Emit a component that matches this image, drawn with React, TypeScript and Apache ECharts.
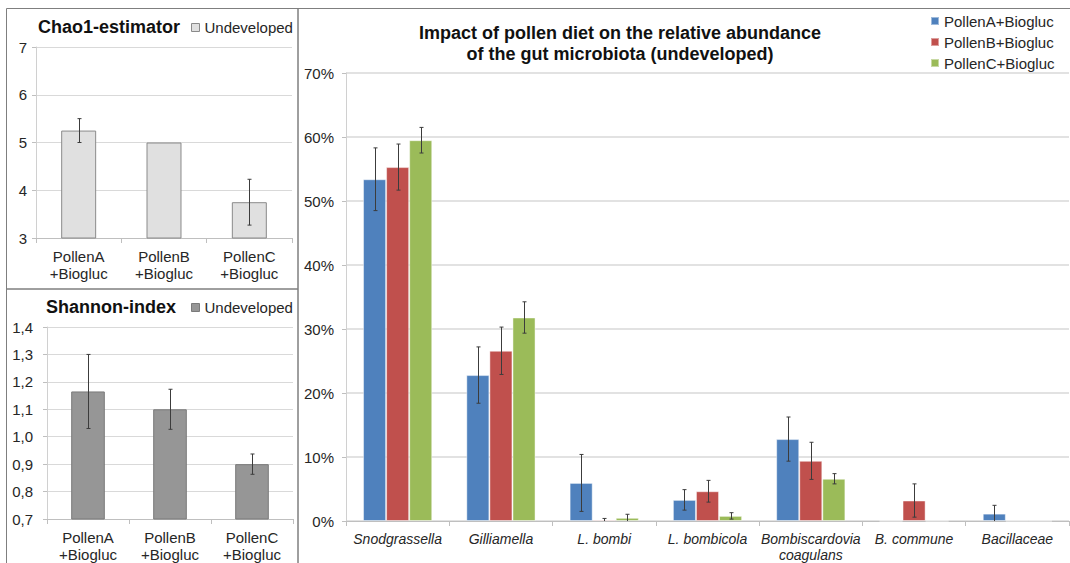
import React, { useEffect, useRef } from 'react';
import * as echarts from 'echarts';

// Alpha diversity panels (undeveloped colonies)
const pollenGroups = ['PollenA\n+Biogluc', 'PollenB\n+Biogluc', 'PollenC\n+Biogluc'];
const chao1Mean = [5.25, 5.0, 3.75];
const chao1Err = [0.25, 0, 0.48];
const shannonMean = [1.165, 1.1, 0.9];
const shannonErr = [0.135, 0.073, 0.037];

// Relative abundance of gut taxa (percent)
const taxa = [
  'Snodgrassella',
  'Gilliamella',
  'L. bombi',
  'L. bombicola',
  'Bombiscardovia\ncoagulans',
  'B. commune',
  'Bacillaceae',
];
const dietNames = ['PollenA+Biogluc', 'PollenB+Biogluc', 'PollenC+Biogluc'];
const pollenAMean = [53.4, 22.8, 5.95, 3.3, 12.8, 0, 1.15];
const pollenAErr = [4.9, 4.4, 4.45, 1.6, 3.45, 0, 1.3];
const pollenBMean = [55.3, 26.6, 0.2, 4.65, 9.4, 3.2, 0];
const pollenBErr = [3.6, 3.7, 0.2, 1.7, 2.9, 2.6, 0];
const pollenCMean = [59.5, 31.8, 0.5, 0.8, 6.6, 0, 0];
const pollenCErr = [2.0, 2.45, 0.55, 0.5, 0.8, 0, 0];

const FONT = "'Liberation Sans', Arial, sans-serif";
const TEXT = '#262626';
const ERR = '#3c3c3c';
const dietColors = ['#4f81bd', '#c0504d', '#9bbb59'];
const MAIN_GAP = 0.33;

function errorBars(slot: number, slots: number, gap: number, floor: number) {
  return (_params: any, api: any) => {
    const i = api.value(0);
    const mean = api.value(1);
    const err = api.value(2);
    if (!err) return null;
    const band = api.size([1, 0])[0];
    const groupW = band * (1 - gap);
    const barW = groupW / slots;
    const dx = -groupW / 2 + barW * (slot + 0.5);
    const lowVal = Math.max(mean - err, floor);
    const hi = api.coord([i, mean + err]);
    const lo = api.coord([i, lowVal]);
    const x = Math.round(hi[0] + dx) + 0.5;
    const cap = 2;
    const style = { stroke: ERR, lineWidth: 1 };
    const children: any[] = [
      { type: 'line', shape: { x1: x, y1: hi[1], x2: x, y2: lo[1] }, style },
      { type: 'line', shape: { x1: x - cap, y1: hi[1], x2: x + cap, y2: hi[1] }, style },
    ];
    if (lowVal > floor) {
      children.push({ type: 'line', shape: { x1: x - cap, y1: lo[1], x2: x + cap, y2: lo[1] }, style });
    }
    return { type: 'group', children };
  };
}

function categoryAxis(gridIndex: number, data: string[], italic: boolean, fontSize: number, lineHeight: number) {
  return {
    type: 'category',
    gridIndex,
    data,
    boundaryGap: true,
    axisLine: { lineStyle: { color: '#bfbfbf', width: 1 } },
    axisTick: { show: true, alignWithLabel: false, length: 5, lineStyle: { color: '#bfbfbf' } },
    axisLabel: {
      interval: 0,
      margin: 10,
      color: TEXT,
      fontFamily: FONT,
      fontSize,
      fontStyle: italic ? 'italic' : 'normal',
      lineHeight,
    },
  };
}

function valueAxis(
  gridIndex: number,
  min: number,
  max: number,
  interval: number,
  formatter: any,
  margin: number,
  gridWidth: number
) {
  return {
    type: 'value',
    gridIndex,
    min,
    max,
    interval,
    axisLine: { show: true, lineStyle: { color: '#d0d0d0', width: 1 } },
    axisTick: { show: true, length: 4, lineStyle: { color: '#bfbfbf' } },
    axisLabel: { formatter, margin, color: TEXT, fontFamily: FONT, fontSize: 15 },
    splitLine: { show: true, lineStyle: { color: '#d9d9d9', width: gridWidth } },
  };
}

export default function App() {
  const ref = useRef<HTMLDivElement>(null);

  useEffect(() => {
    if (!ref.current) return;
    const chart = echarts.init(ref.current, undefined, { renderer: 'svg' });

    const mainSets = [
      { mean: pollenAMean, err: pollenAErr },
      { mean: pollenBMean, err: pollenBErr },
      { mean: pollenCMean, err: pollenCErr },
    ];

    const option: any = {
      animation: false,
      backgroundColor: '#ffffff',
      textStyle: { fontFamily: FONT },
      title: [
        {
          text: 'Chao1-estimator',
          left: 38,
          top: 18,
          padding: 0,
          textStyle: { fontFamily: FONT, fontSize: 18, fontWeight: 'bold', color: '#111' },
        },
        {
          text: 'Shannon-index',
          left: 46,
          top: 298,
          padding: 0,
          textStyle: { fontFamily: FONT, fontSize: 18, fontWeight: 'bold', color: '#111' },
        },
        {
          text: 'Impact of pollen diet on the relative abundance\nof the gut microbiota (undeveloped)',
          left: 620,
          top: 22,
          padding: 0,
          textAlign: 'center',
          textStyle: { fontFamily: FONT, fontSize: 18, fontWeight: 'bold', color: '#111', lineHeight: 21 },
        },
      ],
      legend: [
        {
          left: 191,
          top: 20,
          padding: 0,
          icon: 'rect',
          itemWidth: 8,
          itemHeight: 8,
          itemGap: 4,
          itemTextGap: 4,
          textStyle: { fontFamily: FONT, fontSize: 15, color: TEXT },
          data: [{ name: 'Undeveloped', itemStyle: { color: '#e0e0e0', borderColor: '#8a8a8a', borderWidth: 1 } }],
        },
        {
          left: 191,
          top: 300,
          padding: 0,
          icon: 'rect',
          itemWidth: 8,
          itemHeight: 8,
          itemGap: 4,
          itemTextGap: 4,
          textStyle: { fontFamily: FONT, fontSize: 15, color: TEXT },
          data: [{ name: 'Undeveloped', itemStyle: { color: '#969696', borderColor: '#7a7a7a', borderWidth: 1 } }],
        },
        {
          left: 930,
          top: 13,
          padding: 0,
          orient: 'vertical',
          icon: 'rect',
          itemWidth: 8,
          itemHeight: 8,
          itemGap: 5,
          itemTextGap: 4,
          textStyle: { fontFamily: FONT, fontSize: 15, color: TEXT, lineHeight: 16 },
          data: dietNames,
        },
      ],
      grid: [
        { left: 36, top: 47, width: 256, height: 191 },
        { left: 47, top: 327, width: 246, height: 192 },
        { left: 346, top: 73, width: 723, height: 450 },
      ],
      xAxis: [
        categoryAxis(0, pollenGroups, false, 15, 17),
        categoryAxis(1, pollenGroups, false, 15, 17),
        categoryAxis(2, taxa, true, 14, 16),
      ],
      yAxis: [
        valueAxis(0, 3, 7, 1, (v: number) => String(v), 9, 1),
        valueAxis(1, 0.7, 1.4, 0.1, (v: number) => v.toFixed(1).replace('.', ','), 14, 1),
        valueAxis(2, 0, 70, 10, '{value}%', 12, 1.5),
      ],
      series: [
        {
          type: 'bar',
          name: 'Undeveloped',
          xAxisIndex: 0,
          yAxisIndex: 0,
          barWidth: '41%',
          data: chao1Mean,
          itemStyle: { color: '#e0e0e0', borderColor: '#8a8a8a', borderWidth: 1 },
        },
        {
          type: 'custom',
          name: 'chao1-sd',
          xAxisIndex: 0,
          yAxisIndex: 0,
          z: 5,
          encode: { x: 0, y: 1 },
          renderItem: errorBars(0, 1, 0, 3),
          data: chao1Mean.map((v, i) => [i, v, chao1Err[i]]),
        },
        {
          type: 'bar',
          name: 'Undeveloped',
          xAxisIndex: 1,
          yAxisIndex: 1,
          barWidth: '41%',
          data: shannonMean,
          itemStyle: { color: '#969696', borderColor: '#7a7a7a', borderWidth: 1 },
        },
        {
          type: 'custom',
          name: 'shannon-sd',
          xAxisIndex: 1,
          yAxisIndex: 1,
          z: 5,
          encode: { x: 0, y: 1 },
          renderItem: errorBars(0, 1, 0, 0.7),
          data: shannonMean.map((v, i) => [i, v, shannonErr[i]]),
        },
        ...mainSets.map((s, k) => ({
          type: 'bar',
          name: dietNames[k],
          xAxisIndex: 2,
          yAxisIndex: 2,
          barGap: '0%',
          barCategoryGap: `${MAIN_GAP * 100}%`,
          data: s.mean,
          itemStyle: { color: dietColors[k], borderColor: 'rgba(255,255,255,0.45)', borderWidth: 1 },
        })),
        ...mainSets.map((s, k) => ({
          type: 'custom',
          name: `${dietNames[k]}-sd`,
          xAxisIndex: 2,
          yAxisIndex: 2,
          z: 5,
          encode: { x: 0, y: 1 },
          renderItem: errorBars(k, 3, MAIN_GAP, 0),
          data: s.mean.map((v, i) => [i, v, s.err[i]]),
        })),
      ],
      graphic: [
        {
          type: 'rect',
          silent: true,
          shape: { x: 6.5, y: 8.5, width: 291.5, height: 280.5 },
          style: { fill: 'none', stroke: '#7f7f7f', lineWidth: 1 },
        },
        {
          type: 'rect',
          silent: true,
          shape: { x: 6.5, y: 289, width: 291.5, height: 300 },
          style: { fill: 'none', stroke: '#7f7f7f', lineWidth: 1 },
        },
        {
          type: 'rect',
          silent: true,
          shape: { x: 298, y: 8.5, width: 800, height: 600 },
          style: { fill: 'none', stroke: '#7f7f7f', lineWidth: 1 },
        },
      ],
    };

    chart.setOption(option);
    return () => chart.dispose();
  }, []);

  return (
    <div
      ref={ref}
      style={{ position: 'absolute', left: 0, top: 0, width: 1070, height: 563, background: '#fff' }}
    />
  );
}
